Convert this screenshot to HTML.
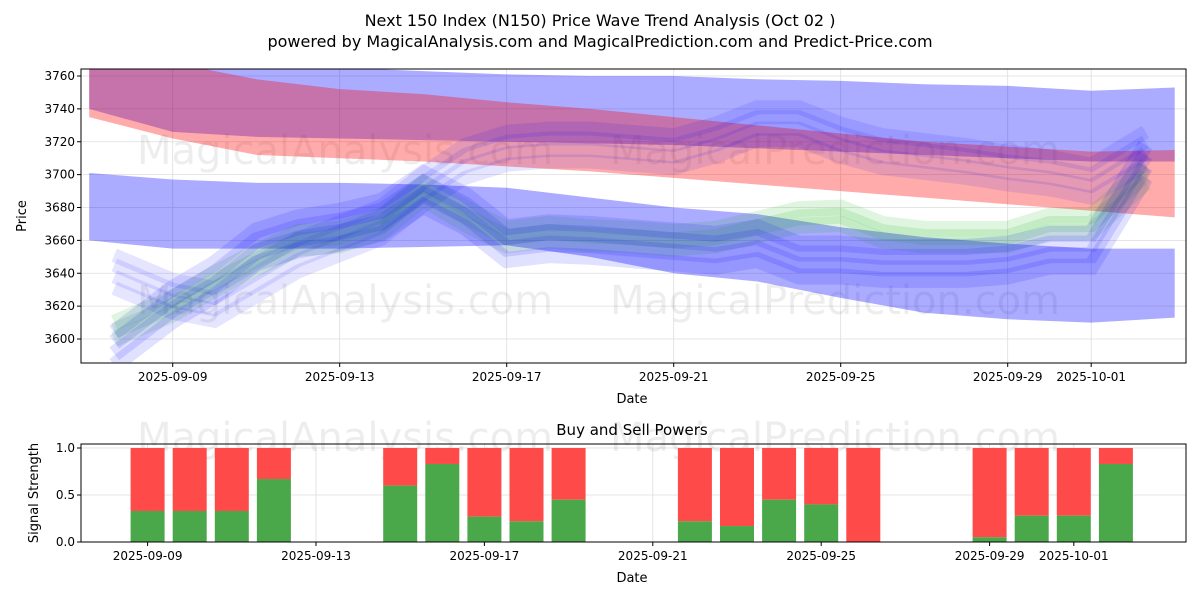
<!DOCTYPE html>
<html><head><meta charset="utf-8"><style>
body{margin:0;background:#fff;font-family:"Liberation Sans","DejaVu Sans",sans-serif}
svg text{font-family:"DejaVu Sans","Liberation Sans",sans-serif}
</style></head><body>
<svg id="c" width="1200" height="600" xmlns="http://www.w3.org/2000/svg">
<defs><clipPath id="clipMain"><rect x="81" y="69" width="1105" height="294"/></clipPath></defs>
<text x="600" y="26" text-anchor="middle" font-size="16">Next 150 Index (N150) Price Wave Trend Analysis (Oct 02 )</text>
<text x="600" y="47" text-anchor="middle" font-size="16">powered by MagicalAnalysis.com and MagicalPrediction.com and Predict-Price.com</text>
<g id="main"></g>
<g id="sub"></g>
</svg>
<script>
const bandDays=[-2,0,2,4,6,8,10,12,14,16,18,20,22,24];
const blueTopHi=[3775,3772,3768,3765,3763,3761,3760,3760,3758,3757,3755,3754,3751,3753];
const blueTopLo=[3740,3726,3723,3722,3721,3720,3719,3718,3716,3714,3712,3710,3708,3708];
const redHi=[3770,3768,3758,3752,3749,3744,3740,3735,3730,3725,3720,3717,3714,3715];
const redLo=[3735,3722,3712,3710,3708,3705,3702,3698,3694,3690,3686,3682,3678,3674];
const blueLowHi=[3701,3697,3695,3695,3694,3692,3686,3680,3676,3668,3662,3658,3655,3655];
const blueLowLo=[3660,3655,3655,3655,3656,3657,3650,3640,3635,3625,3616,3612,3610,3613];
const waveDays=[-1.4,0,1,2,3,4,5,6,7,8,9,10,11,12,13,14,15,16,17,18,19,20,21,22,23.3];
const waveA=[3598,3625,3640,3660,3668,3672,3678,3695,3682,3662,3665,3664,3662,3660,3658,3662,3652,3652,3650,3650,3650,3652,3658,3658,3712];
const waveG=[3605,3620,3635,3648,3660,3662,3670,3690,3675,3662,3665,3663,3662,3660,3662,3668,3674,3675,3665,3662,3662,3662,3670,3670,3700];
const waveB=[3645,3630,3625,3640,3655,3665,3675,3695,3712,3720,3722,3722,3720,3718,3725,3735,3735,3725,3718,3715,3712,3708,3705,3700,3720];
const yTicks=[3600,3620,3640,3660,3680,3700,3720,3740,3760];
const xTickDays=[0,4,8,12,16,20,22];
const xTickLabels=["2025-09-09","2025-09-13","2025-09-17","2025-09-21","2025-09-25","2025-09-29","2025-10-01"];
const barDays=[0,1,2,3,6,7,8,9,10,13,14,15,16,17,20,21,22,23];
const buyPower=[0.33,0.33,0.33,0.67,0.6,0.83,0.27,0.22,0.45,0.22,0.17,0.45,0.4,0,0.05,0.28,0.28,0.83];
const sigTicks=[0,0.5,1.0];
const NS="http://www.w3.org/2000/svg";
const xS=d=>172.7+d*41.75;
const yS=v=>339-(v-3600)*(263/160);
const xB=d=>147.6+d*42.1;
const yB=v=>542-v*94;
function el(t,a,p){const e=document.createElementNS(NS,t);for(const k in a)e.setAttribute(k,a[k]);p.appendChild(e);return e;}
const M=document.getElementById('main'),S=document.getElementById('sub');
const L=81,R=1186;
yTicks.forEach(v=>{const g=el('line',{x1:L,x2:R,y1:yS(v),y2:yS(v),stroke:'#ddd','stroke-width':0.8},M);
const t=el('text',{x:L-6,y:yS(v)+4,'text-anchor':'end','font-size':12},M);t.textContent=v;
el('line',{x1:L-4,x2:L,y1:yS(v),y2:yS(v),stroke:'#000'},M);});
xTickDays.forEach((d,i)=>{[[M,69,363,xS],[S,444,542,xB]].forEach(([p,t0,b0,f])=>{const g=el('line',{x1:f(d),x2:f(d),y1:t0,y2:b0,stroke:'#ddd','stroke-width':0.8},p);
el('line',{x1:f(d),x2:f(d),y1:b0,y2:b0+4,stroke:'#000'},p);
const t=el('text',{x:f(d),y:b0+18,'text-anchor':'middle','font-size':12},p);t.textContent=xTickLabels[i];});});
sigTicks.forEach(v=>{const g=el('line',{x1:L,x2:R,y1:yB(v),y2:yB(v),stroke:'#ddd','stroke-width':0.8},S);});
[[345,150],[835,150],[345,300],[835,300]].forEach(([x,y])=>{const t=el('text',{x:x,y:y+14,'text-anchor':'middle','font-size':40,fill:'#000','fill-opacity':0.07},M);t.textContent=x<600?'MagicalAnalysis.com':'MagicalPrediction.com';});
const C=el('g',{'clip-path':'url(#clipMain)'},M);
function band(hi,lo,col,op,name){let pts=bandDays.map((d,i)=>xS(d)+','+yS(hi[i]));for(let i=bandDays.length-1;i>=0;i--)pts.push(xS(bandDays[i])+','+yS(lo[i]));
const p=el('polygon',{points:pts.join(' '),fill:col,'fill-opacity':op},C);}
band(blueTopHi,blueTopLo,'#0000ff',0.33,'upper-blue-band');
band(redHi,redLo,'#ff0000',0.33,'red-band');
band(blueLowHi,blueLowLo,'#0000ff',0.33,'lower-blue-band');
function wave(vals,off,w,col,op,name){const pts=waveDays.map((d,i)=>xS(d)+','+yS(vals[i]+off)).join(' ');
const p=el('polyline',{points:pts,fill:'none',stroke:col,'stroke-opacity':op,'stroke-width':w,'stroke-linejoin':'miter'},C);}
[-14,-7,0,6].forEach(o=>wave(waveB,o,14,'#0000ff',0.1,'wave-band-b'));
[-5,0,5].forEach(o=>wave(waveG,o,16,'#00aa00',0.12,'wave-band-green'));
[-14,-7,0,6].forEach(o=>wave(waveA,o,16,'#0000ff',0.12,'wave-band-a'));
el('rect',{x:L,y:69,width:R-L,height:294,fill:'none',stroke:'#000'},M);
let t=el('text',{x:632,y:403,'text-anchor':'middle','font-size':13},M);t.textContent='Date';
t=el('text',{x:26,y:216,'text-anchor':'middle','font-size':13,transform:'rotate(-90 26 216)'},M);t.textContent='Price';
[[345,437],[835,437]].forEach(([x,y])=>{const w=el('text',{x:x,y:y+14,'text-anchor':'middle','font-size':40,fill:'#000','fill-opacity':0.07},S);w.textContent=x<600?'MagicalAnalysis.com':'MagicalPrediction.com';});
sigTicks.forEach(v=>{el('line',{x1:L-4,x2:L,y1:yB(v),y2:yB(v),stroke:'#000'},S);const tt=el('text',{x:L-6,y:yB(v)+4,'text-anchor':'end','font-size':12},S);tt.textContent=v.toFixed(1);});
barDays.forEach((d,i)=>{const x=xB(d)-17,b=buyPower[i];
const r=el('rect',{x:x,y:yB(1),width:34,height:yB(b)-yB(1),fill:'#ff4a4a'},S);
const g=el('rect',{x:x,y:yB(b),width:34,height:yB(0)-yB(b),fill:'#4aa84a'},S);});
el('rect',{x:L,y:444,width:R-L,height:98,fill:'none',stroke:'#000'},S);
t=el('text',{x:632,y:435,'text-anchor':'middle','font-size':15},S);t.textContent='Buy and Sell Powers';
t=el('text',{x:632,y:582,'text-anchor':'middle','font-size':13},S);t.textContent='Date';
t=el('text',{x:38,y:493,'text-anchor':'middle','font-size':13,transform:'rotate(-90 38 493)'},S);t.textContent='Signal Strength';
</script>
</body></html>
